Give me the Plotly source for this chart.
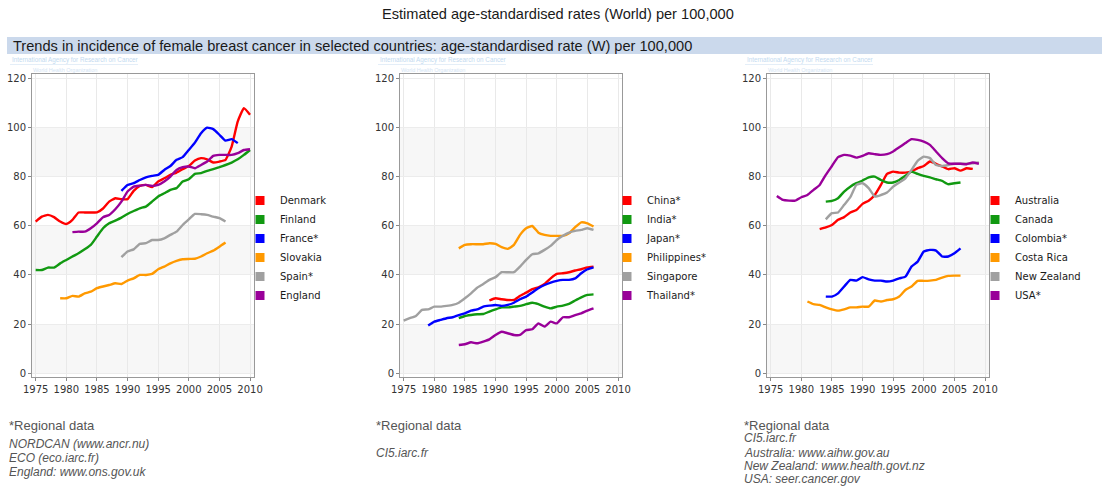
import plotly.graph_objects as go

# ---------------- data ----------------
# Panel 1 (Europe)
denmark_years = list(range(1975, 2011))
denmark = [61.7, 63.7, 64.4, 63.5, 61.7, 60.7, 62.4, 65.4, 65.4, 65.4,
           65.4, 67.0, 69.8, 71.2, 70.8, 70.8, 74.2, 76.2, 76.6, 75.7,
           78.0, 79.3, 80.7, 81.6, 83.0, 84.3, 86.5, 87.5, 87.0, 85.7,
           86.1, 86.8, 92.2, 102.4, 107.8, 105.1]
finland_years = list(range(1975, 2011))
finland = [42.0, 42.0, 43.0, 43.0, 44.7, 46.1, 47.5, 48.8, 50.4, 52.2,
           55.6, 59.0, 61.0, 62.1, 63.3, 64.8, 66.0, 67.1, 67.8, 69.8,
           71.9, 73.2, 74.6, 75.3, 78.0, 78.9, 81.1, 81.4, 82.3, 83.0,
           83.8, 84.7, 85.7, 87.0, 88.8, 90.8]
france_years = list(range(1989, 2009))
france = [74.2, 76.6, 77.3, 78.6, 79.7, 80.3, 80.7, 82.7, 84.3, 86.8,
          87.9, 90.8, 93.8, 97.6, 99.9, 99.3, 97.0, 94.6, 95.2, 93.6]
slovakia_years = list(range(1979, 2007))
slovakia = [30.5, 30.5, 31.5, 31.2, 32.5, 33.2,
            34.6, 35.3, 35.9, 36.6, 36.3, 37.7, 38.6, 40.0, 40.0, 40.4,
            42.3, 43.4, 44.7, 45.7, 46.4, 46.5, 46.6, 47.5, 48.8, 49.9,
            51.5, 53.2]
spain_years = list(range(1989, 2007))
spain = [47.2, 49.5, 50.4, 52.6, 52.9, 54.2,
         54.2, 54.9, 56.3, 57.6, 60.3, 62.6, 64.8, 64.7, 64.4, 63.7,
         63.1, 61.7]
england_years = list(range(1981, 2011))
england = [57.4, 57.6, 57.6, 59.0,
           61.0, 63.5, 64.4, 66.7, 69.8, 73.9, 75.9, 76.3, 76.6, 76.2,
           76.6, 78.0, 80.0, 82.7, 83.8, 84.1, 83.4, 84.7, 86.1, 88.4,
           88.8, 88.8, 88.8, 89.5, 90.8, 91.1]

# Panel 2 (Asia)
china_years = list(range(1989, 2007))
china = [29.6, 30.5, 30.1, 29.8, 29.8, 31.5,
         32.8, 34.2, 35.0, 36.3, 38.6, 40.4, 40.7, 41.1, 41.8, 42.3,
         43.1, 43.4]
india_years = list(range(1984, 2007))
india = [22.4,
         23.3, 23.7, 24.0, 24.1, 25.1, 26.0, 26.8, 26.8, 27.1, 27.4,
         28.1, 28.7, 28.1, 27.1, 26.4, 27.1, 27.5, 28.2, 29.6, 30.9,
         31.9, 32.1]
japan_years = list(range(1979, 2007))
japan = [19.4, 21.0, 21.7, 22.4, 22.8, 23.7,
         24.4, 25.5, 26.0, 27.1, 27.5, 27.8, 27.4, 27.8, 28.7, 30.1,
         31.2, 32.9, 34.6, 35.9, 36.9, 37.6, 38.0, 38.0, 38.6, 40.7,
         42.3, 43.1]
philippines_years = list(range(1984, 2007))
philippines = [50.8,
               52.2, 52.5, 52.5, 52.5, 52.9, 52.6, 51.3, 50.6, 52.2, 56.3,
               59.0, 59.9, 57.2, 56.3, 55.9, 55.9, 55.9, 56.9, 59.4, 61.4,
               61.0, 59.7]
singapore_years = list(range(1975, 2007))
singapore = [21.4, 22.4, 23.3, 25.8, 26.0, 27.1, 27.1, 27.4, 27.8, 28.7,
             30.5, 32.5, 34.8, 36.3, 38.0, 39.1, 41.1, 41.1, 41.1, 43.4,
             46.1, 48.4, 48.8, 50.2, 51.8, 54.2, 55.9, 57.2, 57.9, 58.3,
             59.0, 58.3]
thailand_years = list(range(1984, 2007))
thailand = [11.5,
            11.8, 12.6, 12.2, 12.9, 13.8, 15.6, 16.9, 16.3, 15.6, 15.6,
            17.6, 17.9, 20.3, 19.0, 21.0, 20.3, 22.8, 22.8, 23.7, 24.4,
            25.5, 26.4]

# Panel 3 (Oceania / Americas)
australia_years = list(range(1983, 2009))
australia = [58.6, 59.3,
             60.3, 62.4, 63.5, 65.4, 66.4, 68.9, 70.2, 72.5, 76.6, 81.1,
             82.0, 81.6, 81.6, 82.0, 83.4, 84.3, 86.1, 85.2, 84.1, 83.0,
             83.4, 82.4, 83.4, 83.1]
canada_years = list(range(1984, 2007))
canada = [69.8,
          70.1, 71.2, 73.9, 75.9, 77.3, 78.4, 79.7, 80.0, 78.6, 77.6,
          77.6, 78.6, 80.3, 82.0, 81.1, 80.3, 79.7, 78.9, 78.2, 76.9,
          77.3, 77.6]
colombia_years = list(range(1984, 2007))
colombia = [31.2,
            31.2, 32.5, 35.3, 38.0, 37.7, 39.1, 38.2, 37.7, 37.7, 37.3,
            37.7, 38.6, 39.3, 43.4, 45.4, 49.5, 50.2, 49.9, 47.5, 47.5,
            48.8, 50.8]
costa_rica_years = list(range(1981, 2007))
costa_rica = [29.2, 28.1, 27.8, 26.8,
              26.0, 25.5, 26.0, 26.8, 26.8, 27.1, 27.1, 29.6, 29.2, 29.8,
              30.1, 31.2, 33.9, 35.3, 37.6, 37.6, 37.7, 38.0, 38.9, 39.6,
              39.7, 39.7]
new_zealand_years = list(range(1984, 2010))
new_zealand = [62.6,
               65.1, 65.4, 68.5, 71.6, 76.6, 77.3, 75.3, 71.9, 72.5, 73.5,
               75.9, 77.6, 79.3, 82.7, 86.4, 88.1, 87.5, 84.7, 84.3, 84.7,
               85.2, 85.2, 85.2, 85.4, 85.7]
usa_years = list(range(1976, 2010))
usa = [72.1, 70.5, 70.2, 70.2, 71.6, 72.5, 74.6, 76.6, 80.7,
       84.3, 87.9, 88.8, 88.5, 87.7, 88.4, 89.5, 89.1, 88.8, 89.1,
       90.2, 91.9, 93.6, 95.2, 94.9, 94.2, 92.9, 90.2, 87.5, 85.4,
       85.2, 85.2, 85.0, 85.7, 85.2]

x_ticks = [1975, 1980, 1985, 1990, 1995, 2000, 2005, 2010]
y_ticks = [0, 20, 40, 60, 80, 100, 120]

RED, GREEN, BLUE, ORANGE, GRAY, PURPLE = "#ff0000", "#119911", "#0000ff", "#ff9900", "#a0a0a0", "#990099"

panels = [
    [("Denmark", denmark_years, denmark, RED),
     ("Finland", finland_years, finland, GREEN),
     ("France*", france_years, france, BLUE),
     ("Slovakia", slovakia_years, slovakia, ORANGE),
     ("Spain*", spain_years, spain, GRAY),
     ("England", england_years, england, PURPLE)],
    [("China*", china_years, china, RED),
     ("India*", india_years, india, GREEN),
     ("Japan*", japan_years, japan, BLUE),
     ("Philippines*", philippines_years, philippines, ORANGE),
     ("Singapore", singapore_years, singapore, GRAY),
     ("Thailand*", thailand_years, thailand, PURPLE)],
    [("Australia", australia_years, australia, RED),
     ("Canada", canada_years, canada, GREEN),
     ("Colombia*", colombia_years, colombia, BLUE),
     ("Costa Rica", costa_rica_years, costa_rica, ORANGE),
     ("New Zealand", new_zealand_years, new_zealand, GRAY),
     ("USA*", usa_years, usa, PURPLE)],
]

footers = [
    ["NORDCAN (www.ancr.nu)", "ECO (eco.iarc.fr)", "England: www.ons.gov.uk"],
    ["CI5.iarc.fr"],
    ["CI5.iarc.fr", "Australia: www.aihw.gov.au", "New Zealand: www.health.govt.nz",
     "USA: seer.cancer.gov"],
]

# ---------------- layout geometry (pixels) ----------------
W, H = 1102, 486
panel_px = [(32, 254), (400, 622), (767, 989)]
plot_top, plot_bottom = 74, 377
legend_left = [240, 607, 975]
footer_left = [7, 374, 742]


def px_x(p):
    return p / W


def px_y(p):
    return 1 - p / H


fig = go.Figure()
layout = dict(
    width=W, height=H,
    margin=dict(l=0, r=0, t=0, b=0, pad=0, autoexpand=False),
    paper_bgcolor="white", plot_bgcolor="white",
    font=dict(family="DejaVu Sans", size=10, color="#333"),
    showlegend=True,
)
shapes = []
annotations = []

for i, series in enumerate(panels):
    n = "" if i == 0 else str(i + 1)
    xa, ya = "x" + n, "y" + n
    leg = "legend" + n
    for name, yrs, vals, col in series:
        fig.add_trace(go.Scatter(
            x=yrs, y=vals, mode="lines", name=name, showlegend=False,
            line=dict(color=col, width=2.4, shape="spline", smoothing=0.4),
            xaxis=xa, yaxis=ya, hoverinfo="skip"))
    for name, yrs, vals, col in series:
        fig.add_trace(go.Scatter(
            x=[None], y=[None], mode="markers", name=name, legend=leg,
            marker=dict(symbol="square", size=9, color=col),
            xaxis=xa, yaxis=ya))
    l, r = panel_px[i]
    layout["xaxis" + n] = dict(
        domain=[px_x(l), px_x(r)], range=[1974.4, 2010.65], anchor=ya,
        tickvals=x_ticks, ticks="outside", ticklen=3, tickcolor="#888",
        showgrid=True, gridcolor="#e9e9e9", gridwidth=1,
        showline=True, linecolor="#999", linewidth=1, mirror=True,
        zeroline=False, automargin=False,
        tickfont=dict(family="DejaVu Sans", size=10, color="#333"),
        fixedrange=True)
    layout["yaxis" + n] = dict(
        domain=[px_y(plot_bottom), px_y(plot_top)], range=[-1.5, 121.7], anchor=xa,
        tickvals=y_ticks, ticks="outside", ticklen=3, tickcolor="#888",
        showgrid=True, gridcolor="#ececec", gridwidth=1,
        showline=True, linecolor="#999", linewidth=1, mirror=True,
        zeroline=False, automargin=False,
        tickfont=dict(family="DejaVu Sans", size=10, color="#333"),
        fixedrange=True)
    for y0 in (0, 40, 80):
        shapes.append(dict(type="rect", xref=xa + " domain", yref=ya,
                           x0=0, x1=1, y0=y0, y1=y0 + 20,
                           fillcolor="#f7f7f7", line=dict(width=0), layer="below"))
    layout[leg] = dict(
        x=px_x(legend_left[i]), xanchor="left", y=px_y(248), yanchor="middle",
        bgcolor="rgba(0,0,0,0)", borderwidth=0,
        font=dict(family="DejaVu Sans", size=10, color="#1a1a1a"),
        itemclick=False, itemdoubleclick=False)
    # faint watermark (IARC / WHO)
    annotations.append(dict(
        text="International Agency for Research on Cancer", x=px_x(l - 22), y=px_y(59.5),
        xref="paper", yref="paper", xanchor="left", yanchor="middle", showarrow=False,
        font=dict(family="Liberation Sans", size=6.3, color="#c3daf0")))
    shapes.append(dict(type="line", xref="paper", yref="paper",
                       x0=px_x(l - 22), x1=px_x(l + 106), y0=px_y(64.5), y1=px_y(64.5),
                       line=dict(color="#e4eef8", width=1)))
    annotations.append(dict(
        text="World Health Organization", x=px_x(l - 1), y=px_y(70),
        xref="paper", yref="paper", xanchor="left", yanchor="middle", showarrow=False,
        font=dict(family="Liberation Sans", size=5.5, color="#d3e4f4")))
    # footers
    fx = footer_left[i]
    annotations.append(dict(
        text="*Regional data", x=px_x(fx), y=px_y(425), xref="paper", yref="paper",
        xanchor="left", yanchor="middle", showarrow=False,
        font=dict(family="Liberation Sans", size=13, color="#555")))
    if i == 0:
        ys = [444.3, 458.3, 471.7]
    elif i == 1:
        ys = [453]
    else:
        ys = [437.7, 452.5, 465.7, 479.3]
    for t, yy in zip(footers[i], ys):
        annotations.append(dict(
            text="<i>" + t + "</i>", x=px_x(fx), y=px_y(yy), xref="paper", yref="paper",
            xanchor="left", yanchor="middle", showarrow=False,
            font=dict(family="Liberation Sans", size=12, color="#555")))

# header band
shapes.append(dict(type="rect", xref="paper", yref="paper",
                   x0=px_x(7), x1=1, y0=px_y(54), y1=px_y(37),
                   fillcolor="#cbd9ec", line=dict(width=0), layer="below"))
annotations.append(dict(
    text="Trends in incidence of female breast cancer in selected countries: age-standardised rate (W) per 100,000",
    x=px_x(11), y=px_y(45.5), xref="paper", yref="paper", xanchor="left", yanchor="middle",
    showarrow=False, font=dict(family="Liberation Sans", size=14.6, color="#1a1a1a")))
annotations.append(dict(
    text="Estimated age-standardised rates (World) per 100,000",
    x=px_x(558), y=px_y(14), xref="paper", yref="paper", xanchor="center", yanchor="middle",
    showarrow=False, font=dict(family="Liberation Sans", size=14.6, color="#1a1a1a")))

layout["shapes"] = shapes
layout["annotations"] = annotations
fig.update_layout(**layout)
fig.write_html("out.html")
